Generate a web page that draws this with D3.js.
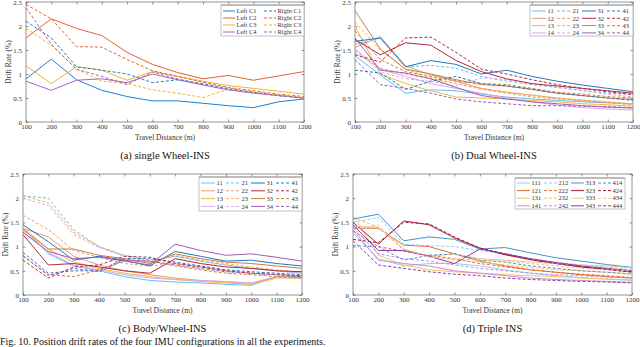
<!DOCTYPE html>
<html>
<head>
<meta charset="utf-8">
<script src="https://cdn.jsdelivr.net/npm/d3@7"></script>
<style>
  html, body { margin: 0; padding: 0; background: #fff; }
  svg { display: block; font-family: "Liberation Serif", "DejaVu Serif", serif; }
</style>
</head>
<body>
<svg id="fig" width="640" height="347"></svg>
<script>
// travel distance (m), shared by every panel
const distances = [100, 200, 300, 400, 500, 600, 700, 800, 900, 1000, 1100, 1200];
const yTicks = [0, 0.5, 1, 1.5, 2, 2.5];

// (a) single Wheel-INS
const singleNames = ["Left C1", "Left C2", "Left C3", "Left C4", "Right C1", "Right C2", "Right C3", "Right C4"];
const singleValues = [
  [0.90, 1.31, 0.88, 0.66, 0.53, 0.44, 0.44, 0.39, 0.34, 0.30, 0.42, 0.48],
  [1.75, 2.15, 1.95, 1.80, 1.45, 1.20, 1.03, 0.90, 0.97, 0.87, 0.96, 1.05],
  [1.17, 0.80, 1.15, 1.08, 0.87, 1.05, 0.95, 0.85, 0.76, 0.70, 0.64, 0.58],
  [0.85, 0.66, 0.87, 0.90, 0.82, 1.00, 0.88, 0.77, 0.67, 0.60, 0.55, 0.50],
  [2.10, 1.75, 1.15, 1.08, 1.00, 0.82, 0.88, 0.80, 0.70, 0.62, 0.55, 0.50],
  [2.45, 2.15, 1.57, 1.56, 1.30, 1.07, 0.95, 0.83, 0.72, 0.65, 0.58, 0.53],
  [1.95, 1.60, 1.10, 0.85, 0.80, 0.67, 0.60, 0.51, 0.68, 0.62, 0.56, 0.50],
  [2.38, 1.62, 1.10, 0.95, 0.78, 1.04, 0.90, 0.78, 0.68, 0.62, 0.55, 0.50]
];

// (b) Dual Wheel-INS
const dualNames = ["11", "12", "13", "14", "21", "22", "23", "24", "31", "32", "33", "34", "41", "42", "43", "44"];
const dualValues = [
  [1.38, 0.98, 0.60, 0.67, 0.65, 0.58, 0.52, 0.48, 0.45, 0.42, 0.40, 0.38],
  [1.55, 1.78, 1.17, 0.98, 0.85, 0.70, 0.62, 0.56, 0.50, 0.45, 0.41, 0.37],
  [2.00, 1.00, 0.80, 0.65, 0.52, 0.50, 0.48, 0.45, 0.42, 0.38, 0.36, 0.33],
  [1.52, 1.10, 0.95, 0.80, 0.70, 0.60, 0.50, 0.42, 0.35, 0.30, 0.27, 0.25],
  [1.62, 1.75, 1.15, 1.18, 1.12, 0.95, 0.85, 0.78, 0.72, 0.66, 0.60, 0.58],
  [1.45, 1.12, 1.00, 0.90, 0.80, 0.68, 0.60, 0.52, 0.48, 0.44, 0.40, 0.36],
  [2.08, 1.50, 1.10, 0.92, 0.80, 0.70, 0.62, 0.55, 0.50, 0.46, 0.42, 0.38],
  [1.50, 1.05, 0.90, 0.85, 0.75, 0.92, 0.88, 0.80, 0.72, 0.65, 0.58, 0.52],
  [1.68, 1.75, 1.15, 1.28, 1.20, 1.00, 1.08, 0.95, 0.85, 0.77, 0.70, 0.63],
  [1.72, 1.40, 1.65, 1.60, 1.28, 1.05, 0.90, 0.80, 0.75, 0.70, 0.65, 0.60],
  [2.32, 1.52, 1.10, 1.00, 0.88, 0.78, 0.75, 0.68, 0.60, 0.55, 0.50, 0.47],
  [1.75, 1.08, 1.02, 0.90, 0.72, 0.55, 0.48, 0.42, 0.38, 0.34, 0.31, 0.29],
  [1.08, 1.02, 0.68, 0.85, 0.95, 0.80, 0.75, 0.68, 0.60, 0.55, 0.50, 0.45],
  [1.40, 1.25, 1.75, 1.77, 1.45, 1.10, 1.00, 0.88, 0.78, 0.70, 0.63, 0.57],
  [1.90, 1.30, 1.05, 0.95, 0.85, 0.80, 0.78, 0.70, 0.62, 0.58, 0.53, 0.50],
  [1.30, 0.78, 0.70, 0.60, 0.48, 0.42, 0.38, 0.34, 0.34, 0.33, 0.32, 0.30]
];

// (c) Body/Wheel-INS
const bodyNames = dualNames;
const bodyValues = [
  [1.38, 0.85, 0.60, 0.50, 0.38, 0.30, 0.27, 0.25, 0.22, 0.20, 0.38, 0.38],
  [1.38, 1.20, 0.80, 0.62, 0.50, 0.42, 0.35, 0.30, 0.27, 0.24, 0.38, 0.35],
  [1.40, 0.95, 0.68, 0.55, 0.45, 0.38, 0.32, 0.28, 0.25, 0.22, 0.35, 0.35],
  [1.30, 0.88, 0.62, 0.52, 0.42, 0.35, 0.32, 0.30, 0.28, 0.25, 0.38, 0.40],
  [2.05, 2.00, 1.35, 1.00, 0.82, 0.72, 0.80, 0.70, 0.62, 0.55, 0.50, 0.45],
  [1.65, 1.35, 0.92, 0.78, 0.65, 0.60, 0.65, 0.58, 0.50, 0.45, 0.42, 0.40],
  [2.05, 1.90, 1.30, 1.00, 0.80, 0.68, 0.82, 0.72, 0.65, 0.58, 0.52, 0.47],
  [2.00, 1.85, 1.25, 0.98, 0.80, 0.68, 0.80, 0.70, 0.62, 0.55, 0.50, 0.45],
  [1.45, 1.10, 0.72, 0.80, 0.72, 0.60, 0.90, 0.80, 0.70, 0.72, 0.65, 0.60],
  [1.25, 0.62, 0.65, 0.58, 0.50, 0.45, 0.75, 0.65, 0.58, 0.55, 0.50, 0.48],
  [1.35, 0.95, 0.95, 0.82, 0.75, 0.65, 0.85, 0.75, 0.68, 0.65, 0.60, 0.55],
  [1.30, 0.90, 0.75, 0.78, 0.70, 0.62, 1.05, 0.92, 0.82, 0.85, 0.78, 0.70],
  [0.88, 0.45, 0.50, 0.50, 0.75, 0.75, 0.68, 0.60, 0.52, 0.48, 0.45, 0.42],
  [0.72, 0.35, 0.58, 0.62, 0.80, 0.78, 0.65, 0.58, 0.50, 0.45, 0.42, 0.38],
  [0.80, 0.42, 0.38, 0.52, 0.70, 0.70, 0.60, 0.52, 0.45, 0.42, 0.38, 0.35],
  [0.82, 0.40, 0.55, 0.48, 0.72, 0.70, 0.62, 0.55, 0.48, 0.45, 0.42, 0.40]
];

// (d) Triple INS
const tripleNames = ["111", "121", "131", "141", "212", "222", "232", "242", "313", "323", "333", "343", "414", "424", "434", "444"];
const tripleValues = [
  [1.28, 0.75, 0.60, 0.65, 0.65, 0.60, 0.52, 0.45, 0.40, 0.36, 0.33, 0.30],
  [1.38, 1.38, 1.03, 1.00, 0.85, 0.70, 0.60, 0.52, 0.47, 0.42, 0.38, 0.35],
  [1.65, 0.82, 0.62, 0.52, 0.48, 0.45, 0.42, 0.40, 0.38, 0.35, 0.33, 0.31],
  [1.35, 0.72, 0.65, 0.60, 0.50, 0.45, 0.40, 0.35, 0.32, 0.30, 0.28, 0.26],
  [1.50, 1.60, 1.05, 1.02, 1.00, 0.92, 0.85, 0.75, 0.68, 0.62, 0.58, 0.52],
  [1.32, 1.00, 0.90, 0.82, 0.75, 0.65, 0.58, 0.52, 0.47, 0.43, 0.40, 0.36],
  [1.60, 1.40, 0.92, 0.80, 0.72, 0.68, 0.62, 0.57, 0.52, 0.50, 0.47, 0.44],
  [1.40, 0.85, 0.75, 0.70, 0.62, 0.55, 0.50, 0.45, 0.42, 0.40, 0.37, 0.35],
  [1.57, 1.67, 1.12, 1.20, 1.15, 0.95, 0.98, 0.87, 0.77, 0.70, 0.63, 0.57],
  [1.50, 1.05, 1.53, 1.45, 1.18, 0.97, 0.83, 0.73, 0.65, 0.58, 0.53, 0.48],
  [1.42, 1.40, 0.95, 0.80, 0.85, 0.75, 0.72, 0.68, 0.65, 0.62, 0.60, 0.56],
  [1.45, 0.92, 0.92, 0.80, 0.65, 0.95, 0.85, 0.75, 0.67, 0.60, 0.55, 0.50],
  [1.02, 1.00, 0.72, 0.82, 0.85, 0.72, 0.68, 0.60, 0.55, 0.50, 0.47, 0.43],
  [1.15, 1.08, 1.50, 1.47, 1.20, 0.97, 0.85, 0.73, 0.65, 0.58, 0.53, 0.47],
  [1.35, 1.45, 0.95, 0.78, 0.75, 0.72, 0.70, 0.65, 0.60, 0.55, 0.52, 0.50],
  [1.12, 0.62, 0.55, 0.48, 0.43, 0.40, 0.35, 0.32, 0.30, 0.28, 0.27, 0.25]
];

// styles
const singleColors = ["#1b7fd0", "#e0642e", "#f0b52a", "#a663c4", "#1b7fd0", "#e0642e", "#f0b52a", "#a663c4"];
const dualColors = [
  "#5cc3f0", "#eb9a78", "#f3b640", "#dca8e6",
  "#5cc3f0", "#eb9a78", "#f3b640", "#dca8e6",
  "#1f78c4", "#b0283c", "#cf7c3a", "#a05cb8",
  "#1f78c4", "#b0283c", "#cf7c3a", "#a05cb8"
];
const tripleColors = [
  "#86d2f4", "#e06a30", "#f5c455", "#cc8ade",
  "#86d2f4", "#e06a30", "#f5c455", "#cc8ade",
  "#4a8fca", "#a81c34", "#ebc3a0", "#8a3aa6",
  "#4a8fca", "#a81c34", "#ebc3a0", "#8a3aa6"
];

const svg = d3.select("#fig");
const axisColor = "#4d4d4d";

function drawPanel(cfg) {
  const x = d3.scaleLinear().domain([100, 1200]).range([cfg.x0, cfg.x1]);
  const y = d3.scaleLinear().domain([0, 2.5]).range([cfg.y1, cfg.y0]);
  const g = svg.append("g");

  // frame with inward ticks, mirrored on top/right
  g.append("rect")
    .attr("x", cfg.x0).attr("y", cfg.y0)
    .attr("width", cfg.x1 - cfg.x0).attr("height", cfg.y1 - cfg.y0)
    .attr("fill", "none").attr("stroke", axisColor).attr("stroke-width", 0.6);

  const bottom = g.append("g").attr("transform", `translate(0,${cfg.y1})`)
    .call(d3.axisBottom(x).tickValues(distances).tickSize(-2.5).tickPadding(2.5).tickFormat(d3.format("d")));
  const top = g.append("g").attr("transform", `translate(0,${cfg.y0})`)
    .call(d3.axisTop(x).tickValues(distances).tickSize(-2.5).tickFormat(""));
  const left = g.append("g").attr("transform", `translate(${cfg.x0},0)`)
    .call(d3.axisLeft(y).tickValues(yTicks).tickSize(-2.5).tickPadding(4).tickFormat(d3.format("")));
  const right = g.append("g").attr("transform", `translate(${cfg.x1},0)`)
    .call(d3.axisRight(y).tickValues(yTicks).tickSize(-2.5).tickFormat(""));
  [bottom, top, left, right].forEach((a) => {
    a.select(".domain").remove();
    a.selectAll("line").attr("stroke", axisColor).attr("stroke-width", 0.6);
    a.selectAll("text").attr("fill", "#333").attr("font-size", 7).attr("font-family", "Liberation Serif");
  });

  const line = d3.line().x((d, i) => x(distances[i])).y((d) => y(d));
  cfg.values.forEach((vals, i) => {
    g.append("path")
      .attr("d", line(vals))
      .attr("fill", "none")
      .attr("stroke", cfg.colors[i])
      .attr("stroke-width", 1)
      .attr("stroke-dasharray", cfg.dashed(i) ? "3,2" : null);
  });

  g.append("text")
    .attr("x", (cfg.x0 + cfg.x1) / 2).attr("y", cfg.y1 + 17.5)
    .attr("text-anchor", "middle").attr("font-size", 7.5).attr("fill", "#333")
    .text("Travel Distance (m)");
  g.append("text")
    .attr("transform", `translate(${cfg.x0 - 15},${(cfg.y0 + cfg.y1) / 2}) rotate(-90)`)
    .attr("text-anchor", "middle").attr("font-size", 7.5).attr("fill", "#333")
    .text("Drift Rate (%)");
  g.append("text")
    .attr("x", (cfg.x0 + cfg.x1) / 2).attr("y", cfg.y1 + 37)
    .attr("text-anchor", "middle").attr("font-size", 10.5).attr("fill", "#111")
    .text(cfg.caption);

  // legend
  const L = cfg.legend;
  const lg = g.append("g");
  lg.append("rect")
    .attr("x", L.x).attr("y", L.y).attr("width", L.w).attr("height", L.h)
    .attr("fill", "#fff").attr("stroke", "#9a9a9a").attr("stroke-width", 0.6);
  lg.append("line")
    .attr("x1", L.x).attr("x2", L.x + L.w).attr("y1", L.y).attr("y2", L.y)
    .attr("stroke", "#b0b0b0").attr("stroke-width", 1.4);
  L.order.forEach((row, r) => {
    row.forEach((si, c) => {
      const cx = L.x + L.pad + c * L.colW;
      const cy = L.y + L.top + r * L.rowH;
      lg.append("line")
        .attr("x1", cx).attr("x2", cx + L.lineW).attr("y1", cy).attr("y2", cy)
        .attr("stroke", cfg.colors[si]).attr("stroke-width", 1)
        .attr("stroke-dasharray", cfg.dashed(si) ? "3,2" : null);
      lg.append("text")
        .attr("x", cx + L.lineW + 1.5).attr("y", cy + 2.2)
        .attr("font-size", 6.5).attr("fill", "#333")
        .text(cfg.names[si]);
    });
  });
}

const rows4 = [0, 1, 2, 3].map((r) => [r, r + 4, r + 8, r + 12]);

drawPanel({
  x0: 26, x1: 304, y0: 2, y1: 122,
  names: singleNames, values: singleValues, colors: singleColors,
  dashed: (i) => i >= 4,
  caption: "(a)  single Wheel-INS",
  legend: { x: 221, y: 5, w: 83, h: 31, pad: 2, top: 6, rowH: 7, colW: 41, lineW: 12,
    order: [0, 1, 2, 3].map((r) => [r, r + 4]) }
});

drawPanel({
  x0: 355, x1: 633, y0: 2, y1: 122,
  names: dualNames, values: dualValues, colors: dualColors,
  dashed: (i) => (i >= 4 && i < 8) || i >= 12,
  caption: "(b)  Dual Wheel-INS",
  legend: { x: 530, y: 5, w: 103, h: 31, pad: 2, top: 6, rowH: 7.3, colW: 25, lineW: 14, order: rows4 }
});

drawPanel({
  x0: 23, x1: 302, y0: 174, y1: 295,
  names: bodyNames, values: bodyValues, colors: dualColors,
  dashed: (i) => (i >= 4 && i < 8) || i >= 12,
  caption: "(c)  Body/Wheel-INS",
  legend: { x: 199, y: 177, w: 103, h: 34, pad: 2, top: 6, rowH: 7.8, colW: 25, lineW: 14, order: rows4 }
});

drawPanel({
  x0: 353, x1: 632, y0: 174, y1: 295,
  names: tripleNames, values: tripleValues, colors: tripleColors,
  dashed: (i) => (i >= 4 && i < 8) || i >= 12,
  caption: "(d)  Triple INS",
  legend: { x: 515, y: 178, w: 110, h: 31, pad: 2, top: 5, rowH: 7.6, colW: 27, lineW: 13, order: rows4 }
});

svg.append("text")
  .attr("x", 0).attr("y", 345)
  .attr("font-size", 10).attr("fill", "#111")
  .text("Fig. 10.   Position drift rates of the four IMU configurations in all the experiments.");
</script>
</body>
</html>
